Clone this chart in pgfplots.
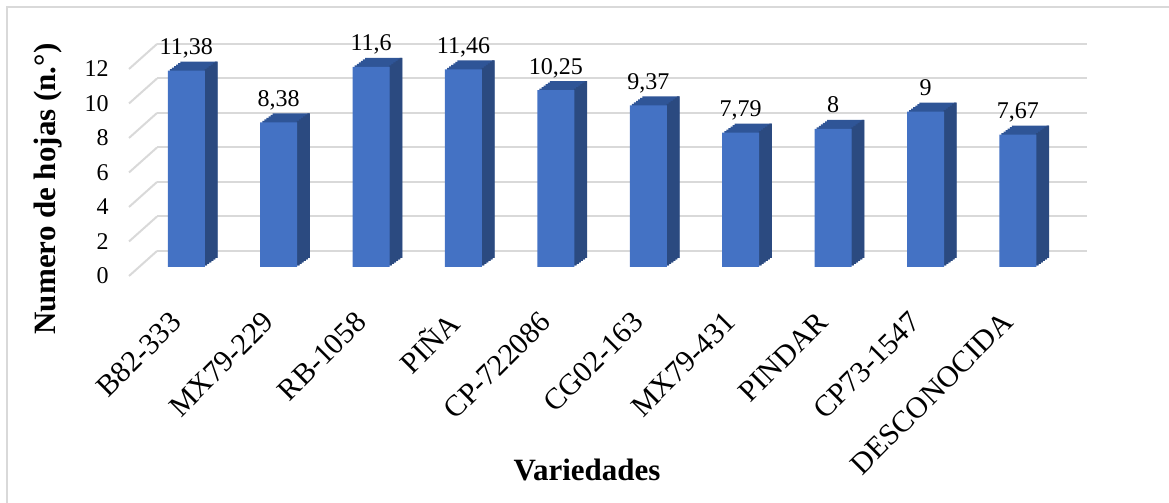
\documentclass[border=0pt]{standalone}
\usepackage{fontspec}
\setmainfont{Liberation Serif}
\usepackage{pgfplots}
\usepackage{pgfplotstable}
\pgfplotsset{compat=1.18}

\definecolor{barfront}{RGB}{68,114,196}
\definecolor{bartop}{RGB}{47,85,151}
\definecolor{barside}{RGB}{43,74,128}
\definecolor{gridc}{RGB}{217,217,217}

% numero de hojas por variedad
\pgfplotstableread{
x v
0 11.38
1 8.38
2 11.6
3 11.46
4 10.25
5 9.37
6 7.79
7 8
8 9
9 7.67
}\hojas

\begin{document}
\begin{tikzpicture}
\useasboundingbox (0,0) rectangle (584.5pt,251.5pt);
\draw[gridc, line width=1pt] (3.5pt,-20pt) rectangle (600pt,248pt);
\begin{axis}[
  at={(64.5pt,118pt)}, anchor=south west,
  x=46.2pt, y=8.625pt,
  xmin=-0.62, xmax=9.44, ymin=0, ymax=14,
  clip=false,
  axis line style={draw=none},
  major tick length=0pt,
  xtick={0,...,9},
  xticklabels={B82-333,MX79-229,RB-1058,PIÑA,CP-722086,CG02-163,MX79-431,PINDAR,CP73-1547,DESCONOCIDA},
  ytick={0,2,...,12},
  ymajorgrids,
  major grid style={gridc, line width=1pt, xshift=14pt, yshift=8pt},
  tick label style={font=\fontsize{12}{14}\selectfont},
  /pgf/number format/assume math mode=true,
  /pgf/number format/use comma,
  yticklabel style={anchor=east, inner sep=0pt, xshift=-10pt, yshift=-4.5pt},
  xticklabel style={font=\fontsize{15}{17}\selectfont, anchor=east, inner sep=0pt,
    xshift=-5pt, yshift=-25pt, rotate=45},
]
% esquinas del piso (lineas diagonales de la cuadricula)
\pgfplotsinvokeforeach{0,2,4,6,8,10,12}{
  \draw[gridc, line width=1pt] ([yshift=-4.5pt]axis cs:-0.62,#1) -- ([xshift=14pt,yshift=8pt]axis cs:-0.62,#1);
}
% cara superior (barrido)
\pgfplotsinvokeforeach{1,2,3,4,5,6}{
  \addplot[ybar, bar width=18.5pt, bar shift=0pt, fill=bartop, draw=none,
    xshift=#1*1.04pt, yshift=#1*0.75pt] table[x=x,y=v] {\hojas};
}
% cara lateral
\pgfplotsinvokeforeach{1,2,3,4,5,6}{
  \addplot[ybar, bar width=1.3pt, bar shift=0pt, fill=barside, draw=none,
    xshift={9.25pt+(#1-0.5)*1.04pt}, yshift=#1*0.75pt] table[x=x,y=v] {\hojas};
}
% cara frontal
\addplot[ybar, bar width=18.5pt, bar shift=0pt, fill=barfront, draw=none,
  nodes near coords, point meta=y,
  every node near coord/.append style={font=\fontsize{12}{14}\selectfont,
    anchor=base, inner sep=0pt, yshift=8pt}] table[x=x,y=v] {\hojas};
\end{axis}
\node[rotate=90, font=\fontsize{15.5}{18}\selectfont\bfseries] at (24pt,157pt) {Numero de hojas (n.°)};
\node[font=\fontsize{15.5}{18}\selectfont\bfseries] at (293.5pt,16.5pt) {Variedades};
\end{tikzpicture}
\end{document}
